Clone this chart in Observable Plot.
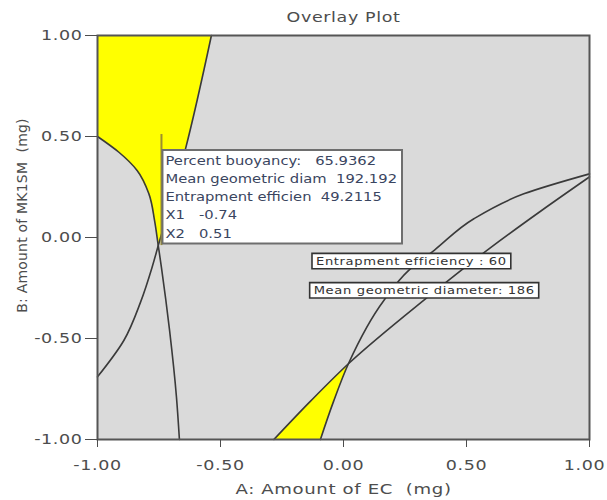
<!DOCTYPE html>
<html>
<head>
<meta charset="utf-8">
<script src="https://cdn.jsdelivr.net/npm/d3@7"></script>
<script src="https://cdn.jsdelivr.net/npm/@observablehq/plot@0.6"></script>
<style>
  body { margin: 0; background: #fff; }
  #chart svg { font-family: "DejaVu Sans", sans-serif; }
</style>
</head>
<body>
<div id="chart"></div>
<script>
// ---- tick values ----
const axisTicks = [-1, -0.5, 0, 0.5, 1];

// ---- contour lines (A: Amount of EC, B: Amount of MK1SM), ordered by B ----
const buoyancyDescending = [[-0.667, -1], [-0.679, -0.79], [-0.707, -0.46], [-0.74, -0.149], [-0.753, -0.04], [-0.768, 0.084], [-0.791, 0.216], [-0.839, 0.332], [-0.913, 0.422], [-1, 0.5]];
const buoyancyRising = [[-1, -0.69], [-0.893, -0.51], [-0.825, -0.32], [-0.778, -0.147], [-0.753, -0.04], [-0.642, 0.44], [-0.537, 1]];
const entrapmentContour = [[-0.094, -1], [-0.04, -0.81], [0.02, -0.625], [0.164, -0.312], [0.265, -0.163], [0.37, -0.062], [0.53, 0.093], [0.733, 0.216], [1, 0.315]];
const diameterContour = [[-0.283, -1], [-0.134, -0.81], [0.02, -0.625], [0.327, -0.31], [0.598, -0.05], [0.801, 0.13], [1, 0.30]];

// ---- yellow design-space regions ----
const regionTop = [[-1, 1], [-0.537, 1], [-0.642, 0.44], [-0.753, -0.04], [-0.768, 0.084], [-0.791, 0.216], [-0.839, 0.332], [-0.913, 0.422], [-1, 0.5]];
const regionBottom = [[-0.094, -1], [-0.04, -0.81], [0.02, -0.625], [-0.134, -0.81], [-0.283, -1]];

// ---- flag / tooltip ----
const flagPoint = {x: -0.74, y: 0.51, boxTop: 0.445, boxBottom: -0.04};
const flagLines = ["Percent buoyancy:   65.9362", "Mean geometric diam  192.192", "Entrapment efficien  49.2115", "X1   -0.74", "X2   0.51"];

// ---- contour labels ----
const contourLabels = [
  {x: 0.276, y: -0.12, text: "Entrapment efficiency : 60"},
  {x: 0.328, y: -0.265, text: "Mean geometric diameter: 186"}
];

// ---- texts ----
const titleText = "Overlay Plot";
const xLabel = "A: Amount of EC  (mg)";
const yLabel = "B: Amount of MK1SM  (mg)";

const fmt = d => d.toFixed(2);
const curves = [buoyancyDescending, buoyancyRising, entrapmentContour, diameterContour];

const chart = Plot.plot({
  width: 607,
  height: 500,
  marginLeft: 97,
  marginRight: 18,
  marginTop: 35,
  marginBottom: 61,
  style: {fontFamily: "DejaVu Sans, sans-serif", fontSize: "14px", color: "#4d4d4d", background: "#fff", letterSpacing: "0.5px"},
  x: {domain: [-1, 1]},
  y: {domain: [-1, 1]},
  marks: [
    Plot.frame({fill: "#dadada", stroke: "none"}),
    Plot.line(regionTop, {x: d => d[0], y: d => d[1], fill: "#ffff00", stroke: "none"}),
    Plot.line(regionBottom, {x: d => d[0], y: d => d[1], fill: "#ffff00", stroke: "none"}),
    ...curves.map(c => Plot.line(c, {x: d => d[0], y: d => d[1], stroke: "#3a3a3a", strokeWidth: 1.6, curve: "monotone-y"})),
    Plot.ruleX([flagPoint], {x: "x", y1: "y", y2: "boxBottom", stroke: "#9c8f2e", strokeWidth: 2}),
    Plot.text([flagLines.join("\n")], {x: () => flagPoint.x, y: () => flagPoint.boxTop, text: d => d, textAnchor: "start", lineAnchor: "top", lineHeight: 1.55, dx: 4, dy: 4, fontSize: 11.8, fill: "#3a4560"}),
    Plot.text(contourLabels, {x: "x", y: "y", text: "text", fontSize: 10.5, fill: "#333"}),
    Plot.frame({stroke: "#555", strokeWidth: 2}),
    Plot.axisX(axisTicks, {tickFormat: fmt, tickSize: 8, tickPadding: 13, fontSize: 14, label: null}),
    Plot.axisY(axisTicks, {tickFormat: fmt, tickSize: 12, tickPadding: 3, fontSize: 14, label: null}),
    Plot.text([xLabel], {frameAnchor: "bottom", textAnchor: "middle", lineAnchor: "middle", dy: 50, fontSize: 14.5, fill: "#4d4d4d"}),
    Plot.text([yLabel], {frameAnchor: "left", textAnchor: "middle", lineAnchor: "middle", dx: -75, dy: -22, rotate: -90, fontSize: 14, fill: "#4d4d4d"}),
    Plot.text([titleText], {frameAnchor: "top", textAnchor: "middle", lineAnchor: "middle", dy: -18, fontSize: 14, fill: "#4d4d4d"})
  ]
});

document.getElementById("chart").appendChild(chart);

// the reference is horizontally stretched: widen horizontal texts
const sx = 1.25;
function boxFor(el, pad, stroke, width) {
  const bb = el.getBBox();
  d3.select(el.parentNode).insert("rect", () => el)
    .attr("x", bb.x - pad[3] / sx).attr("y", bb.y - pad[0])
    .attr("width", bb.width + (pad[1] + pad[3]) / sx).attr("height", bb.height + pad[0] + pad[2])
    .attr("fill", "#fff").attr("stroke", stroke).attr("stroke-width", width)
    .attr("vector-effect", "non-scaling-stroke")
    .attr("transform", el.getAttribute("transform"));
}
d3.select(chart).selectAll("text").each(function() {
  let t = this.getAttribute("transform") || "";
  if (t.includes("rotate")) { this.style.letterSpacing = "0.2px"; return; }
  if (!t && (this.getAttribute("x") || this.getAttribute("y"))) {
    t = `translate(${+this.getAttribute("x") || 0},${+this.getAttribute("y") || 0})`;
    this.removeAttribute("x"); this.removeAttribute("y");
  }
  const content = this.textContent;
  // keep the right-most x tick label inside the picture
  const parentLabel = this.parentNode.getAttribute("aria-label") || "";
  if (parentLabel.includes("x-axis") && content === fmt(axisTicks[axisTicks.length - 1])) t = `translate(-5,0) ${t}`;
  this.setAttribute("transform", `${t} scale(${sx},1)`);
  if (contourLabels.some(l => l.text === content)) boxFor(this, [2, 4, 1, 4], "#333", 1.6);
  else if (content.includes("Percent buoyancy")) { this.style.letterSpacing = "0px"; boxFor(this, [4, 5, 3, 3], "#6e6e6e", 2); }
});
</script>
</body>
</html>
